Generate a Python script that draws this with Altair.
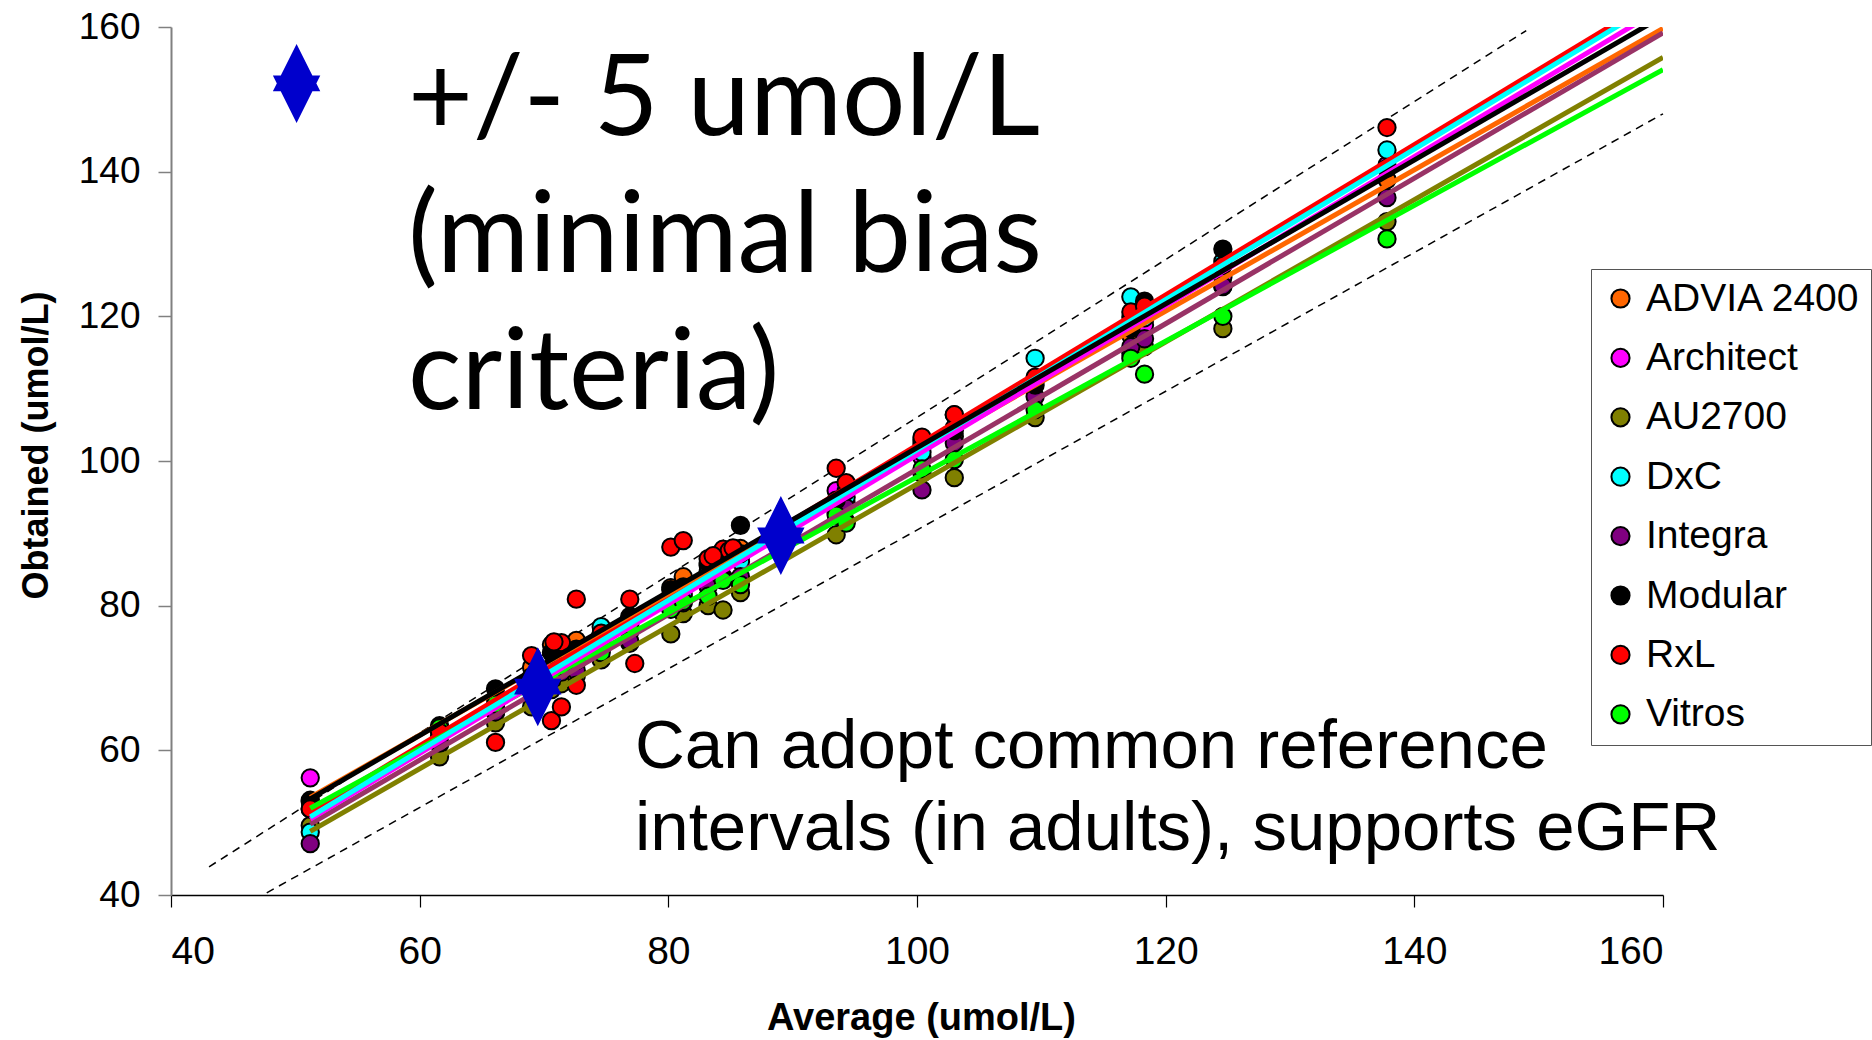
import altair as alt
import pandas as pd

# Instruments, in legend order, with marker and trendline colours
INSTRUMENTS = ["ADVIA 2400", "Architect", "AU2700", "DxC", "Integra", "Modular", "RxL", "Vitros"]
POINT_COLORS = ["#FF6600", "#FF00FF", "#808000", "#00FFFF", "#800080", "#000000", "#FF0000", "#00FF00"]
LINE_COLORS = ["#FF6600", "#FF00FF", "#808000", "#00FFFF", "#993366", "#000000", "#FF0000", "#00FF00"]

# Sample averages (umol/L) shared by all instruments
SAMPLE_AVG = [51.2, 61.6, 66.1, 69.0, 70.6, 71.4, 72.6, 74.6, 76.9, 80.2, 81.2, 83.2,
              84.4, 85.8, 93.5, 94.3, 100.4, 103.0, 109.5, 117.2, 118.3, 124.6, 137.8]

# Obtained results per instrument, one per sample
OBTAINED = {
    "ADVIA 2400": [53.1, 62.8, 67.2, 71.5, 74.6, 73.0, 75.2, 76.0, 77.9, 82.5, 84.0, 85.6,
                   86.8, 87.9, 94.0, 96.2, 102.3, 103.4, 111.2, 117.3, 119.6, 124.1, 138.9],
    "Architect": [56.2, 60.8, 65.2, 68.3, 70.9, 71.8, 72.1, 75.0, 76.4, 80.9, 81.0, 84.1,
                  84.0, 86.8, 95.9, 94.2, 100.5, 104.6, 111.1, 119.9, 118.8, 125.4, 140.9],
    "AU2700": [49.6, 59.1, 63.8, 66.0, 68.4, 69.2, 70.3, 72.5, 74.8, 76.1, 78.9, 80.0,
               79.4, 81.8, 89.8, 91.6, 98.3, 97.7, 106.0, 114.9, 115.8, 118.3, 133.1],
    "DxC": [48.7, 61.9, 66.0, 69.8, 70.2, 72.4, 73.6, 77.1, 78.5, 80.3, 81.6, 84.6,
            85.9, 86.1, 94.2, 95.0, 101.2, 106.4, 114.2, 122.7, 119.8, 127.6, 143.0],
    "Integra": [47.1, 61.0, 65.3, 68.2, 69.5, 70.8, 71.0, 73.9, 75.1, 79.6, 80.4, 82.6,
                83.7, 84.0, 92.8, 93.5, 96.0, 102.5, 108.9, 115.8, 116.9, 124.2, 136.4],
    "Modular": [52.9, 63.4, 68.5, 70.2, 73.5, 74.4, 74.0, 76.0, 78.3, 82.2, 82.6, 85.9,
                86.0, 91.1, 94.6, 95.8, 102.9, 104.2, 110.5, 118.3, 122.1, 129.3, 140.5],
    "RxL": [51.9, 62.5, 61.1, 73.1, 64.1, 66.0, 80.9, 76.2, 80.9, 88.1, 89.0, 86.5,
            87.8, 87.2, 99.0, 97.0, 103.3, 106.4, 111.6, 120.6, 121.4, 127.0, 146.1],
    "Vitros": [51.9, 63.1, 66.4, 69.3, 70.0, 71.6, 72.4, 73.5, 77.4, 79.5, 80.6, 81.3,
               83.5, 82.9, 92.5, 91.4, 98.9, 100.2, 107.1, 114.2, 112.0, 120.0, 130.7],
}

# Repeat RxL runs
RXL_EXTRA_AVG = [71.4, 72.6, 77.3, 70.8, 84.9, 83.6, 85.2]
RXL_EXTRA_OBT = [74.9, 69.0, 72.0, 75.0, 87.6, 86.9, 88.0]

# Linear trendlines: value at the lowest sample and at the right edge
FIT_X = [51.2, 160.0]
FIT_Y = {
    "ADVIA 2400": [53.5, 159.8],
    "Architect": [50.5, 162.7],
    "AU2700": [48.8, 155.8],
    "DxC": [50.8, 163.9],
    "Integra": [49.8, 159.2],
    "Modular": [53.3, 161.5],
    "RxL": [51.5, 164.5],
    "Vitros": [52.0, 154.1],
}
# Trendline drawing order (later ones on top)
LINE_ORDER = ["RxL", "ADVIA 2400", "Integra", "AU2700", "Vitros", "Architect", "DxC", "Modular"]

# Dashed limit lines
LIMIT_UPPER = {"x": [43.06, 149.0], "y": [43.9, 159.5]}
LIMIT_LOWER = {"x": [47.7, 160.0], "y": [40.3, 148.0]}

# Blue star-diamond markers
MARKER_X = [50.1, 69.5, 89.05]
MARKER_Y = [152.2, 68.8, 89.7]

AXIS_TICKS = [40, 60, 80, 100, 120, 140, 160]
BIAS_TEXT = ["+/- 5 umol/L", "(minimal bias", "criteria)"]
NOTE_TEXT = ["Can adopt common reference", "intervals (in adults), supports eGFR"]

# ---- tables ----
point_order = ["ADVIA 2400", "Architect", "AU2700", "DxC", "Integra", "Modular", "Vitros", "RxL"]
rows = []
for inst in point_order:
    for xa, yo in zip(SAMPLE_AVG, OBTAINED[inst]):
        rows.append({"instrument": inst, "avg": xa, "obt": yo})
    if inst == "RxL":
        for xa, yo in zip(RXL_EXTRA_AVG, RXL_EXTRA_OBT):
            rows.append({"instrument": inst, "avg": xa, "obt": yo})
points = pd.DataFrame(rows)

fits = pd.DataFrame([
    {"instrument": inst, "x1": FIT_X[0], "x2": FIT_X[1],
     "y1": FIT_Y[inst][0], "y2": FIT_Y[inst][1],
     "lc": LINE_COLORS[INSTRUMENTS.index(inst)]}
    for inst in LINE_ORDER
])

limits = pd.DataFrame([
    {"x1": LIMIT_UPPER["x"][0], "x2": LIMIT_UPPER["x"][1], "y1": LIMIT_UPPER["y"][0], "y2": LIMIT_UPPER["y"][1]},
    {"x1": LIMIT_LOWER["x"][0], "x2": LIMIT_LOWER["x"][1], "y1": LIMIT_LOWER["y"][0], "y2": LIMIT_LOWER["y"][1]},
])

markers = pd.DataFrame({"avg": MARKER_X, "obt": MARKER_Y})

FONT = "Liberation Sans"
xscale = alt.Scale(domain=[40, 160], nice=False, zero=False)
yscale = alt.Scale(domain=[40, 160], nice=False, zero=False)

x_axis = alt.Axis(values=AXIS_TICKS, title="Average (umol/L)", grid=False,
                  domainColor="black", domainWidth=1.5, tickColor="black", tickWidth=1.2,
                  tickSize=12, labelFont=FONT, labelFontSize=39, labelColor="black",
                  labelPadding=25, titleFont=FONT, titleFontSize=38, titleFontWeight="bold",
                  titleColor="black", titleX=750, titleY=134, titleAlign="center",
                  titleBaseline="alphabetic")
y_axis = alt.Axis(values=AXIS_TICKS, title="Obtained (umol/L)", grid=False,
                  domainColor="#808080", domainWidth=2, tickColor="#808080", tickWidth=1.5,
                  tickSize=13, labelFont=FONT, labelFontSize=37, labelColor="black",
                  labelPadding=18, titleFont=FONT, titleFontSize=36, titleFontWeight="bold",
                  titleColor="black", titleX=-135, titleY=418, titleAlign="center",
                  titleBaseline="middle", titleAngle=270)

dashed = alt.Chart(limits).mark_rule(color="black", strokeWidth=1.5, strokeDash=[8, 6]).encode(
    x=alt.X("x1:Q", scale=xscale, axis=x_axis),
    x2="x2:Q",
    y=alt.Y("y1:Q", scale=yscale, axis=y_axis),
    y2="y2:Q",
)

dots = alt.Chart(points).mark_circle(size=300, opacity=1, stroke="black", strokeWidth=2).encode(
    x=alt.X("avg:Q", scale=xscale),
    y=alt.Y("obt:Q", scale=yscale),
    color=alt.Color(
        "instrument:N",
        scale=alt.Scale(domain=INSTRUMENTS, range=POINT_COLORS),
        legend=alt.Legend(
            title=None, orient="none", legendX=1420, legendY=242, padding=10,
            strokeColor="#555555", fillColor="white",
            labelFont=FONT, labelFontSize=39, labelColor="black", labelLimit=500,
            labelOffset=6, symbolType="circle", symbolSize=330,
            symbolStrokeColor="black", symbolStrokeWidth=2, symbolOpacity=1,
            rowPadding=19.4,
        ),
    ),
)

trend = alt.Chart(fits).mark_rule(strokeWidth=5, clip=True).encode(
    x=alt.X("x1:Q", scale=xscale),
    x2="x2:Q",
    y=alt.Y("y1:Q", scale=yscale),
    y2="y2:Q",
    color=alt.Color("lc:N", scale=None),
)

STAR_DIAMOND = "M0,-1L0.6,0.2L-0.6,0.2ZM0,1L-0.6,-0.2L0.6,-0.2Z"
stars = alt.Chart(markers).mark_point(
    shape=STAR_DIAMOND, filled=True, size=6241, color="#0000CC", opacity=1, strokeWidth=0
).encode(
    x=alt.X("avg:Q", scale=xscale),
    y=alt.Y("obt:Q", scale=yscale),
)

bias_note = alt.Chart(alt.Data(values=[{"label": BIAS_TEXT}])).mark_text(
    font="Lato", fontSize=112, lineHeight=137, align="left", baseline="alphabetic", color="black"
).encode(x=alt.value(237), y=alt.value(108), text="label:N")

ri_note = alt.Chart(alt.Data(values=[{"label": NOTE_TEXT}])).mark_text(
    font=FONT, fontSize=69, lineHeight=82, align="left", baseline="alphabetic", color="black"
).encode(x=alt.value(464), y=alt.value(741), text="label:N")

chart = alt.layer(dashed, dots, trend, stars, bias_note, ri_note).properties(
    width=1492, height=868,
    autosize=alt.AutoSizeParams(type="none"),
    padding={"left": 171, "top": 27, "right": 209, "bottom": 145},
    background="white",
).configure_view(stroke=None)

chart.save("out.html", embed_options={"renderer": "svg", "actions": False})
